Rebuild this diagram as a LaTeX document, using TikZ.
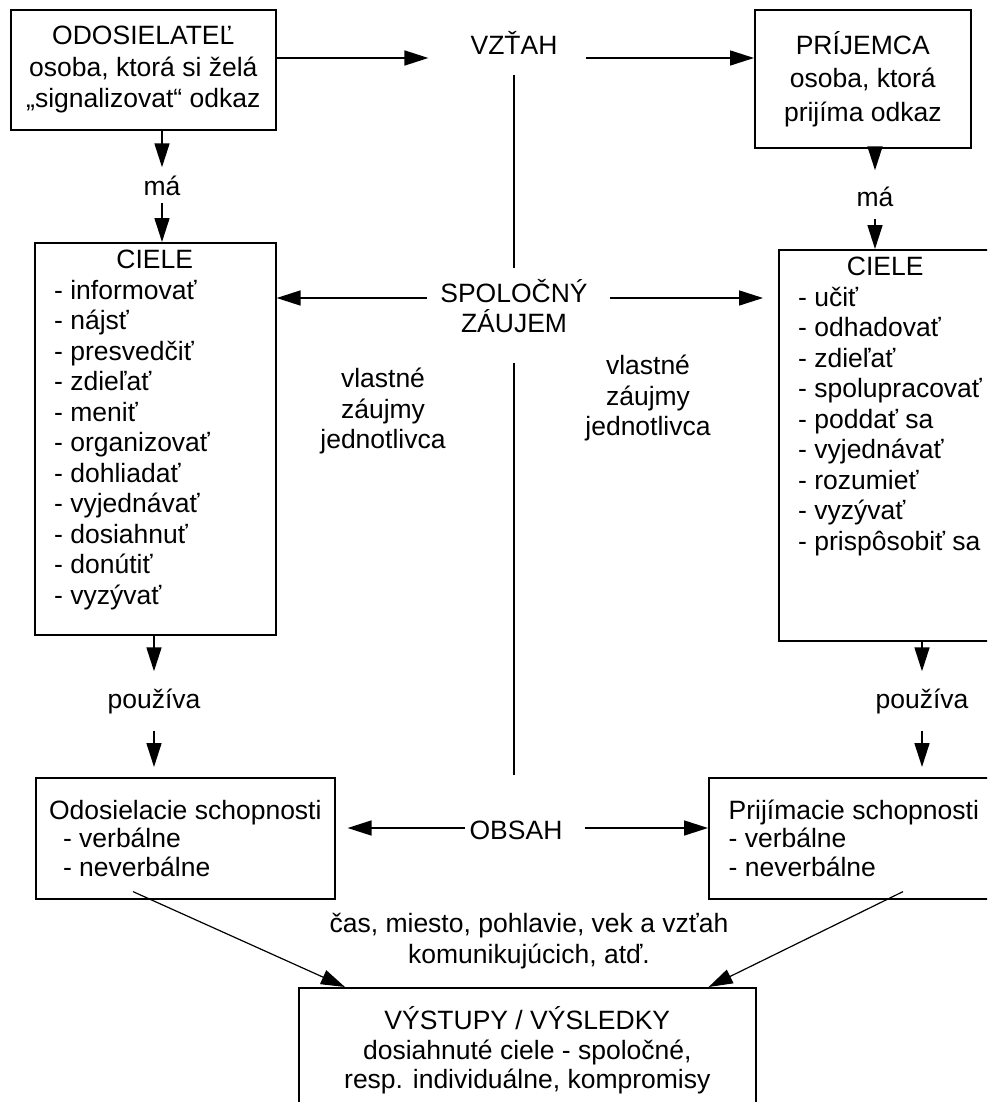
\documentclass[tikz,border=0pt]{standalone}
\usepackage{fontspec}
\setmainfont{Liberation Sans}
\usetikzlibrary{arrows.meta,positioning,calc}
\tikzset{
  kbox/.style={draw=black,line width=1.6pt,inner sep=3pt,align=center,anchor=north west},
  kframe/.style={draw=black,line width=1.6pt,inner sep=0pt,anchor=north west},
  ktxt/.style={inner sep=0pt,align=center},
  klist/.style={inner sep=0pt,align=left,anchor=north west},
  klab/.style={inner sep=8pt,anchor=base},
  karr/.style={-{Triangle[length=24pt,width=15pt]},line width=1.6pt},
  kdiag/.style={-{Triangle[length=24pt,width=15pt]},line width=1.2pt},
  kline/.style={line width=1.6pt}
}

\begin{document}
\begin{tikzpicture}[x=1pt,y=-1pt,font=\fontsize{26.5}{30.5}\selectfont]
  \useasboundingbox (0,0) rectangle (987,1102);
  \clip (0,0) rectangle (987,1102);
  % sender and receiver
  \node[kbox,minimum width=265pt,minimum height=120pt] (send) at (10,9)
    {ODOSIELATEĽ\\[1pt] osoba, ktorá si želá\\[1pt] „signalizovat“ odkaz};
  \node[kbox,minimum width=216pt,minimum height=138pt] (recv) at (754,9)
    {PRÍJEMCA\\[3pt] osoba, ktorá\\[3pt] prijíma odkaz};
  \node[ktxt] (rel) at (514,43) {VZŤAH};
  \coordinate (row1) at (0,58);
  \draw[karr] (send.east |- row1) -- ([xshift=-42pt]rel.west |- row1);
  \draw[karr] ([xshift=28pt]rel.east |- row1) -- (recv.west |- row1);
  % goals
  \node[kframe,minimum width=241pt,minimum height=392pt] (lgoal) at (34,242) {};
  \node[klist] (lgoallist) at (54,250) {\makebox[201pt]{CIELE}\\ - informovať\\ - nájsť\\
    - presvedčiť\\ - zdieľať\\ - meniť\\ - organizovať\\ - dohliadať\\ - vyjednávať\\
    - dosiahnuť\\ - donútiť\\ - vyzývať};
  \node[kframe,minimum width=240pt,minimum height=391pt] (rgoal) at (778,249) {};
  \node[klist] (rgoallist) at (798,257) {\makebox[174pt]{CIELE}\\ - učiť\\ - odhadovať\\
    - zdieľať\\ - spolupracovať\\ - poddať sa\\ - vyjednávať\\ - rozumieť\\ - vyzývať\\
    - prispôsobiť sa};
  \node[klab] (hasl) at (162,195) {má};
  \draw[karr] (send.south -| hasl) -- (hasl.north);
  \draw[karr] (hasl.south) -- (lgoal.north -| hasl);
  \node[klab,inner sep=12pt] (hasr) at (875,207) {má};
  \draw[karr,shorten >=5pt] (recv.south -| hasr) -- (hasr.north);
  \draw[karr] (hasr.south) -- (rgoal.north -| hasr);
  % common interest
  \node[ktxt] (common) at (514,306) {SPOLOČNÝ\\ZÁUJEM};
  \coordinate (row2) at (0,298);
  \draw[karr] ([xshift=-13pt]common.west |- row2) -- (lgoal.east |- row2);
  \draw[karr,shorten >=15pt] ([xshift=22pt]common.east |- row2) -- (rgoal.west |- row2);
  \draw[kline] (rel |- 0,75) -- (rel |- 0,268);
  \draw[kline] (rel |- 0,363) -- (rel |- 0,775);
  \node[ktxt] (ownl) at (383,411) {vlastné\\záujmy\\jednotlivca};
  \node[ktxt] (ownr) at (648,398) {vlastné\\záujmy\\jednotlivca};
  % skills
  \node[kbox,minimum width=299pt,minimum height=121pt,align=left] (lcap) at (35,777)
    {Odosielacie schopnosti\\[-2pt] \hspace*{14pt}- verbálne\\[-2pt] \hspace*{14pt}- neverbálne};
  \node[kbox,minimum width=290pt,minimum height=121pt,align=left] (rcap) at (708,777)
    {Prijímacie schopnosti\\[-2pt] - verbálne\\[-2pt] - neverbálne};
  \node[klab,inner sep=17pt] (usel) at (154,708) {používa};
  \draw[karr] (lgoal.south -| usel) -- (usel.north);
  \draw[karr,shorten >=10pt] (usel.south) -- (lcap.north -| usel);
  \node[klab,inner sep=17pt] (user) at (922,708) {používa};
  \draw[karr] (rgoal.south -| user) -- (user.north);
  \draw[karr,shorten >=10pt] (user.south) -- (rcap.north -| user);
  \node[ktxt] (content) at (516,830) {OBSAH};
  \coordinate (row3) at (0,828);
  \draw[karr] ([xshift=-4pt]content.west |- row3) -- ([xshift=12pt]lcap.east |- row3);
  \draw[karr] ([xshift=22pt]content.east |- row3) -- (rcap.west |- row3);
  % outcomes
  \node[ktxt] (context) at (529,941) {čas, miesto, pohlavie, vek a vzťah\\komunikujúcich, atď.};
  \node[kbox,minimum width=457pt,minimum height=125pt] (outc) at (298,987)
    {VÝSTUPY / VÝSLEDKY\\[-1pt] dosiahnuté ciele - spoločné,\\[-1pt] resp. individuálne, kompromisy};
  \draw[kdiag] ([shift={(98,-8)}]lcap.south west) -- ([xshift=47pt]outc.north west);
  \draw[kdiag] ([shift={(195,-8)}]rcap.south west) -- ([xshift=-48pt]outc.north east);
\end{tikzpicture}
\end{document}
